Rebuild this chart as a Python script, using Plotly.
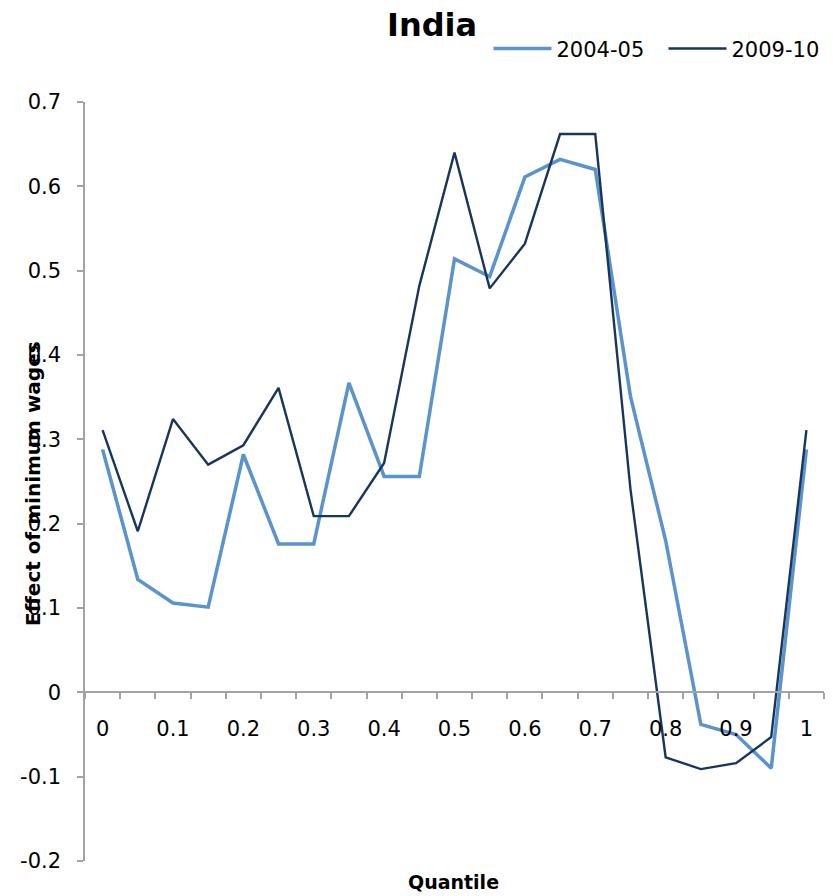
import plotly.graph_objects as go

# Quantile categories (21 points, 0 to 1 in steps of 0.05)
quantiles = ["0", "0.05", "0.1", "0.15", "0.2", "0.25", "0.3", "0.35", "0.4", "0.45",
             "0.5", "0.55", "0.6", "0.65", "0.7", "0.75", "0.8", "0.85", "0.9", "0.95", "1"]

# Estimated effect of minimum wages at each quantile
effect_2004_05 = [0.288, 0.134, 0.106, 0.101, 0.282, 0.176, 0.176, 0.367, 0.256, 0.256,
                  0.514, 0.493, 0.611, 0.632, 0.620, 0.351, 0.180, -0.038, -0.050, -0.090, 0.288]
effect_2009_10 = [0.311, 0.191, 0.324, 0.270, 0.293, 0.361, 0.209, 0.209, 0.272, 0.482,
                  0.640, 0.479, 0.532, 0.662, 0.662, 0.241, -0.077, -0.091, -0.084, -0.053, 0.311]

x_ticktext = ["0", "0.1", "0.2", "0.3", "0.4", "0.5", "0.6", "0.7", "0.8", "0.9", "1"]
y_tickvals = [-0.2, -0.1, 0, 0.1, 0.2, 0.3, 0.4, 0.5, 0.6, 0.7]
y_ticktext = ["-0.2", "-0.1", "0", "0.1", "0.2", "0.3", "0.4", "0.5", "0.6", "0.7"]

FONT = "DejaVu Sans, sans-serif"
AXIS_GREY = "#A3A3A3"
Y_MIN, Y_MAX = -0.2, 0.7

idx = list(range(len(quantiles)))

fig = go.Figure()
fig.add_trace(go.Scatter(x=idx, y=effect_2004_05, mode="lines", name="2004-05",
                         line=dict(color="#5B93CC", width=3.5),
                         customdata=quantiles,
                         hovertemplate="Quantile %{customdata}: %{y}<extra>2004-05</extra>"))
fig.add_trace(go.Scatter(x=idx, y=effect_2009_10, mode="lines", name="2009-10",
                         line=dict(color="#17365D", width=2.4),
                         customdata=quantiles,
                         hovertemplate="Quantile %{customdata}: %{y}<extra>2009-10</extra>"))

# the category axis crosses the value axis at zero
zero_pos = (0 - Y_MIN) / (Y_MAX - Y_MIN)

fig.update_layout(
    width=833, height=896,
    margin=dict(l=85, r=9, t=102, b=35, autoexpand=False),
    plot_bgcolor="white", paper_bgcolor="white",
    font=dict(family=FONT, size=21, color="black"),
    showlegend=True,
    legend=dict(orientation="h", x=0.546, y=1.07, xanchor="left", yanchor="middle",
                font=dict(size=21), bgcolor="rgba(0,0,0,0)", itemwidth=58,
                entrywidth=102, entrywidthmode="pixels", tracegroupgap=0),
    xaxis=dict(
        range=[-0.5, len(quantiles) - 0.5],
        anchor="free", position=zero_pos,
        showline=True, linecolor=AXIS_GREY, linewidth=1.5,
        tickmode="array", tickvals=idx[::2], ticktext=x_ticktext,
        ticks="", ticklabelstandoff=18,
        minor=dict(tickmode="array", tickvals=[i - 0.5 for i in range(len(quantiles) + 1)],
                   ticks="outside", ticklen=6, tickcolor=AXIS_GREY, tickwidth=1.5,
                   showgrid=False),
        showgrid=False, zeroline=False, fixedrange=True,
    ),
    yaxis=dict(
        range=[Y_MIN, Y_MAX],
        showline=True, linecolor=AXIS_GREY, linewidth=1.5,
        tickmode="array", tickvals=y_tickvals, ticktext=y_ticktext,
        ticks="outside", ticklen=6, tickcolor=AXIS_GREY, tickwidth=1.5,
        ticklabelstandoff=12,
        showgrid=False, zeroline=False, fixedrange=True,
    ),
    annotations=[
        dict(text="<b>India</b>", xref="paper", yref="paper", x=0.469, y=1.1015,
             showarrow=False, font=dict(size=32, family=FONT), xanchor="center", yanchor="middle"),
        dict(text="<b>Effect of minimum wages</b>", xref="paper", yref="paper",
             x=-0.0704, y=0.498, textangle=-90, showarrow=False,
             font=dict(size=20, family=FONT), xanchor="center", yanchor="middle"),
        dict(text="<b>Quantile</b>", xref="paper", yref="paper", x=0.499, y=-0.0277,
             showarrow=False, font=dict(size=19, family=FONT), xanchor="center", yanchor="middle"),
    ],
)

fig.write_html("out.html")
